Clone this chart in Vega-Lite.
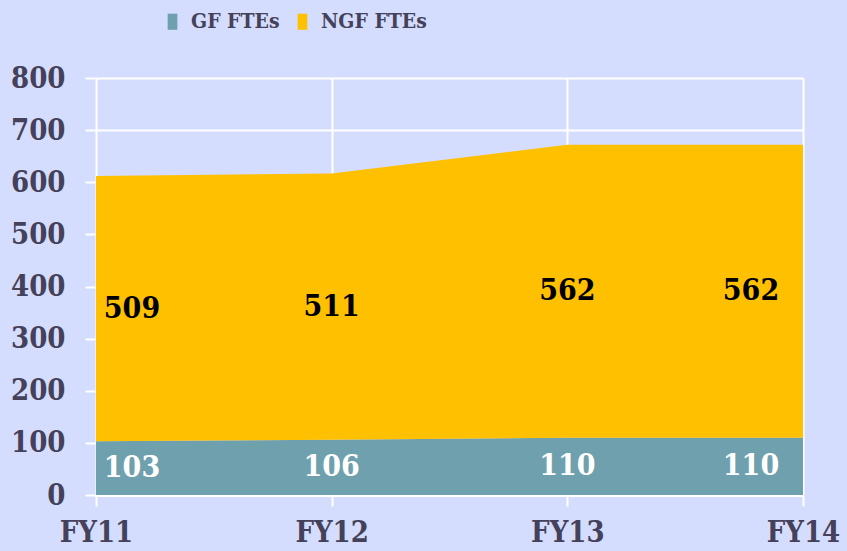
{
  "$schema": "https://vega.github.io/schema/vega-lite/v6.json",
  "width": 707,
  "height": 417,
  "autosize": "none",
  "padding": {"left": 96, "top": 78, "right": 44, "bottom": 56},
  "background": "#d4ddfd",
  "config": {
    "view": {"stroke": null},
    "font": "DejaVu Serif Condensed",
    "axis": {"gridColor": "white", "gridWidth": 2, "gridOpacity": 1, "domainColor": "white", "domainWidth": 3, "tickColor": "white", "tickWidth": 2, "tickSize": 11, "labelFont": "DejaVu Serif Condensed", "labelFontWeight": "bold", "labelFontSize": 29, "labelColor": "#45415a", "title": null}
  },
  "data": {
    "values": [
      {"FY": "FY11", "series": "GF FTEs", "FTE": 103},
      {"FY": "FY12", "series": "GF FTEs", "FTE": 106},
      {"FY": "FY13", "series": "GF FTEs", "FTE": 110},
      {"FY": "FY14", "series": "GF FTEs", "FTE": 110},
      {"FY": "FY11", "series": "NGF FTEs", "FTE": 509},
      {"FY": "FY12", "series": "NGF FTEs", "FTE": 511},
      {"FY": "FY13", "series": "NGF FTEs", "FTE": 562},
      {"FY": "FY14", "series": "NGF FTEs", "FTE": 562}
    ]
  },
  "transform": [
    {"stack": "FTE", "groupby": ["FY"], "sort": [{"field": "series", "order": "ascending"}], "as": ["y0", "y1"]},
    {"calculate": "(datum.y0 + datum.y1) / 2", "as": "mid"}
  ],
  "encoding": {
    "x": {"field": "FY", "type": "ordinal", "scale": {"type": "point", "padding": 0},
      "axis": {"labelAngle": 0, "labelPadding": 12, "grid": true, "domain": true}}
  },
  "layer": [
    {
      "mark": {"type": "area", "opacity": 1},
      "encoding": {
        "y": {"field": "y1", "type": "quantitative", "scale": {"domain": [0, 800]},
          "axis": {"values": [0,100,200,300,400,500,600,700,800], "labelPadding": 20, "domain": false}},
        "y2": {"field": "y0"},
        "color": {"field": "series", "type": "nominal",
          "scale": {"domain": ["GF FTEs", "NGF FTEs"], "range": ["#6fa0ae", "#ffc000"]},
          "legend": {"orient": "none", "legendX": 66, "legendY": -67, "direction": "horizontal", "title": null,
            "symbolType": "M-0.6,-1L0.6,-1L0.6,1L-0.6,1Z", "symbolSize": 260, "symbolStrokeWidth": 0, "labelOffset": 8,
            "labelFont": "DejaVu Serif Condensed", "labelFontWeight": "bold", "labelFontSize": 21, "labelColor": "#45415a", "columnPadding": 12, "symbolOpacity": 1}}
      }
    },
    {
      "transform": [{"filter": "datum.FY == 'FY11'"}],
      "mark": {"type": "text", "dx": 36, "fontSize": 30, "fontWeight": "bold", "font": "DejaVu Serif Condensed"},
      "encoding": {"y": {"field": "mid", "type": "quantitative"}, "text": {"field": "FTE"},
        "fill": {"condition": {"test": "datum.series == 'GF FTEs'", "value": "white"}, "value": "black"}}
    },
    {
      "transform": [{"filter": "datum.FY == 'FY12' || datum.FY == 'FY13'"}],
      "mark": {"type": "text", "dx": 0, "fontSize": 30, "fontWeight": "bold", "font": "DejaVu Serif Condensed"},
      "encoding": {"y": {"field": "mid", "type": "quantitative"}, "text": {"field": "FTE"},
        "fill": {"condition": {"test": "datum.series == 'GF FTEs'", "value": "white"}, "value": "black"}}
    },
    {
      "transform": [{"filter": "datum.FY == 'FY14'"}],
      "mark": {"type": "text", "dx": -52, "fontSize": 30, "fontWeight": "bold", "font": "DejaVu Serif Condensed"},
      "encoding": {"y": {"field": "mid", "type": "quantitative"}, "text": {"field": "FTE"},
        "fill": {"condition": {"test": "datum.series == 'GF FTEs'", "value": "white"}, "value": "black"}}
    }
  ]
}
